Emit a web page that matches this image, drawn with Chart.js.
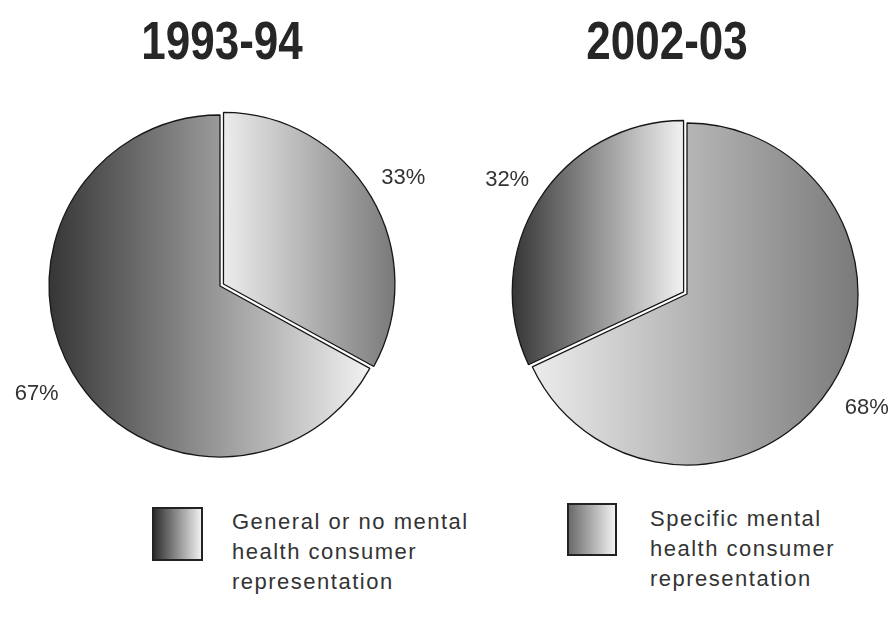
<!DOCTYPE html>
<html>
<head>
<meta charset="utf-8">
<script src="https://cdn.jsdelivr.net/npm/chart.js@4.4.1/dist/chart.umd.min.js"></script>
<style>
  body {
    margin: 0;
    width: 895px;
    height: 624px;
    overflow: hidden;
    position: relative;
    background: #fff;
    font-family: "Liberation Sans", Arial, sans-serif;
  }
  .title {
    position: absolute;
    top: 10px;
    width: 300px;
    text-align: center;
    font-size: 53px;
    font-weight: bold;
    color: #262626;
    transform: scaleX(0.83);
    transform-origin: center;
  }
  canvas { position: absolute; }
  .key-box {
    position: absolute;
    box-sizing: border-box;
    border: 2px solid #222;
  }
  .key-text {
    position: absolute;
    font-size: 22px;
    line-height: 30px;
    letter-spacing: 1.5px;
    color: #333;
  }
</style>
</head>
<body>
<div class="title" id="title0" style="left:72px"></div>
<div class="title" id="title1" style="left:517px"></div>
<canvas id="pie0" width="440" height="400" style="left:0;top:86px"></canvas>
<canvas id="pie1" width="440" height="400" style="left:467px;top:94px"></canvas>
<div id="key"></div>
<script>
const years = ["1993-94", "2002-03"];
const categories = [
  ["Specific mental", "health consumer", "representation"],
  ["General or no mental", "health consumer", "representation"]
];
const shares9394 = [33, 67];
const shares0203 = [68, 32];

const RADIUS = 171;

// grey ramps, left to right across each slice
const ramps = [
  ["#ececec", "#7a7a7a"],
  ["#363636", "#f2f2f2"]
];

function sliceFill(c) {
  const area = c.chart.chartArea;
  if (!area) return "#999";
  const data = c.dataset.data;
  const total = data.reduce((a, b) => a + b, 0);
  let before = 0;
  for (let i = 0; i < c.dataIndex; i++) before += data[i];
  const a0 = -Math.PI / 2 + before / total * 2 * Math.PI;
  const a1 = a0 + data[c.dataIndex] / total * 2 * Math.PI;
  let lo = 0, hi = 0;
  for (let k = 0; k <= 60; k++) {
    const cx = Math.cos(a0 + (a1 - a0) * k / 60);
    lo = Math.min(lo, cx);
    hi = Math.max(hi, cx);
  }
  const mid = (area.left + area.right) / 2;
  const g = c.chart.ctx.createLinearGradient(mid + lo * RADIUS, 0, mid + hi * RADIUS, 0);
  g.addColorStop(0, ramps[c.dataIndex][0]);
  g.addColorStop(1, ramps[c.dataIndex][1]);
  return g;
}

const percentLabels = {
  id: "percentLabels",
  afterDatasetsDraw(chart) {
    const ctx = chart.ctx;
    const meta = chart.getDatasetMeta(0);
    const values = chart.data.datasets[0].data;
    ctx.save();
    ctx.font = '22px "Liberation Sans", Arial, sans-serif';
    ctx.fillStyle = "#333";
    ctx.textAlign = "center";
    ctx.textBaseline = "middle";
    meta.data.forEach((arc, i) => {
      const p = arc.getProps(["x", "y", "startAngle", "endAngle", "outerRadius"], true);
      const mid = (p.startAngle + p.endAngle) / 2;
      const d = p.outerRadius + 42;
      ctx.fillText(values[i] + "%", p.x + Math.cos(mid) * d, p.y + Math.sin(mid) * d);
    });
    ctx.restore();
  }
};

function makePie(id, values, offsets) {
  return new Chart(document.getElementById(id), {
    type: "pie",
    data: {
      labels: categories,
      datasets: [{
        data: values,
        backgroundColor: sliceFill,
        borderColor: "#161616",
        borderWidth: 1.3,
        offset: offsets
      }]
    },
    options: {
      responsive: false,
      animation: false,
      radius: RADIUS,
      plugins: {
        legend: { display: false },
        tooltip: { enabled: false }
      }
    },
    plugins: [percentLabels]
  });
}

document.getElementById("title0").textContent = years[0];
document.getElementById("title1").textContent = years[1];

makePie("pie0", shares9394, [16, 0]);
makePie("pie1", shares0203, [0, 16]);

// key: general first, then specific
const keyItems = [
  { cat: 1, box: [152, 507, 51, 54], text: [232, 507], fill: "linear-gradient(to right, #2e2e2e, #f0f0f0)" },
  { cat: 0, box: [567, 503, 50, 53], text: [650, 504], fill: "linear-gradient(to right, #6a6a6a, #f2f2f2)" }
];
const key = document.getElementById("key");
keyItems.forEach(k => {
  const b = document.createElement("div");
  b.className = "key-box";
  b.style.left = k.box[0] + "px";
  b.style.top = k.box[1] + "px";
  b.style.width = k.box[2] + "px";
  b.style.height = k.box[3] + "px";
  b.style.background = k.fill;
  key.appendChild(b);
  const t = document.createElement("div");
  t.className = "key-text";
  t.style.left = k.text[0] + "px";
  t.style.top = k.text[1] + "px";
  t.innerHTML = categories[k.cat].join("<br>");
  key.appendChild(t);
});
</script>
</body>
</html>
